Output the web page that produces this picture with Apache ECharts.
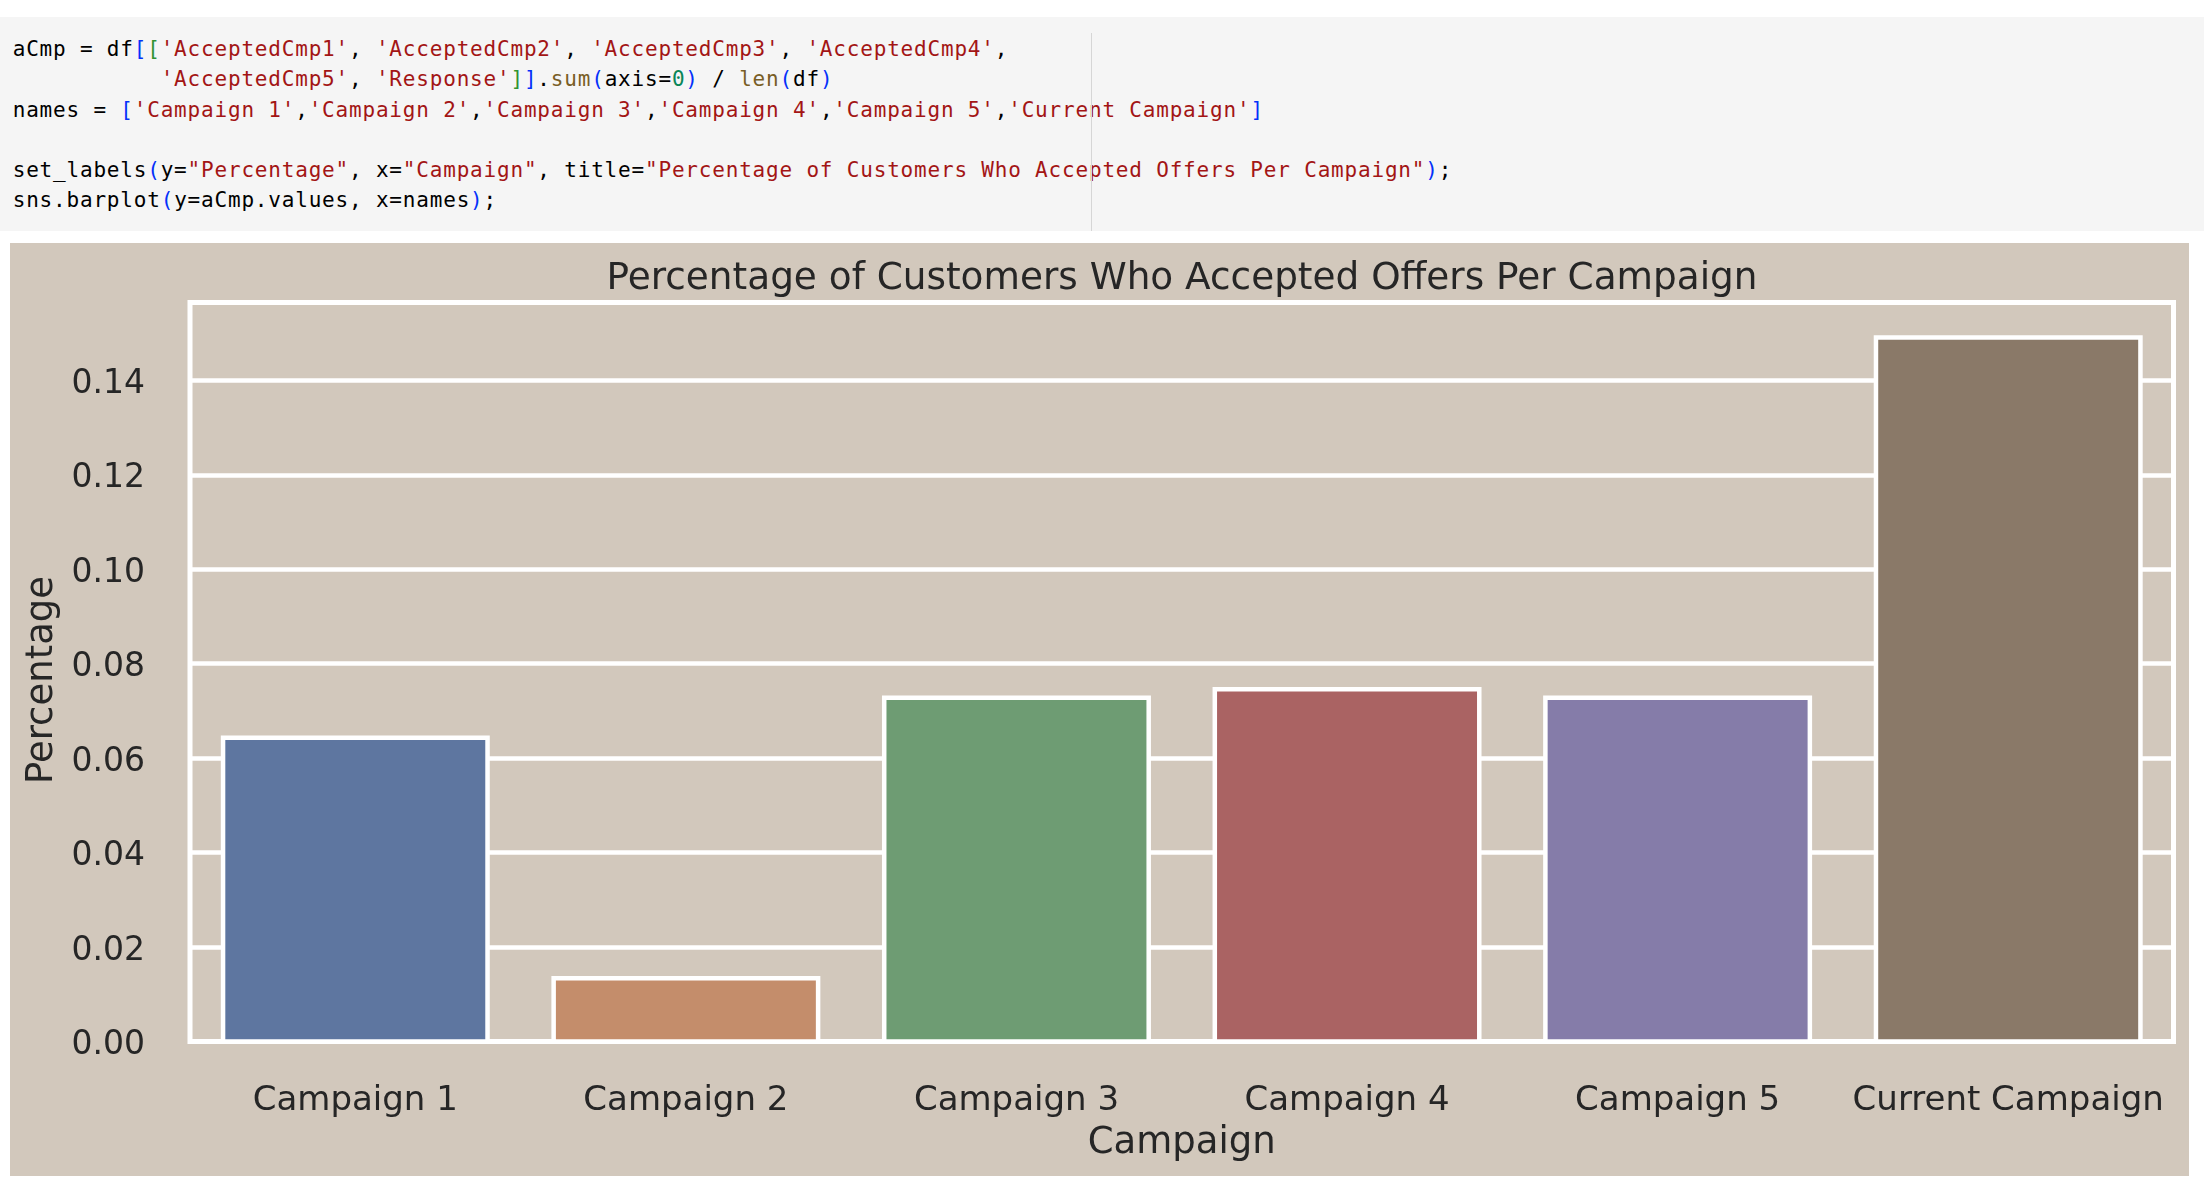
<!DOCTYPE html>
<html>
<head>
<meta charset="utf-8">
<script src="https://cdn.jsdelivr.net/npm/echarts@6/dist/echarts.min.js"></script>
<style>
  html, body { margin: 0; padding: 0; background: #ffffff; width: 2204px; height: 1190px; overflow: hidden; }
  #code { position: absolute; left: 0; top: 17px; width: 2204px; height: 214px; background: #f5f5f5; }
  #sep { position: absolute; left: 1091px; top: 16px; width: 1px; height: 198px; background: #d6d6d6; }
  pre { position: absolute; left: 12.7px; top: 17.2px; margin: 0; font-family: "DejaVu Sans Mono", monospace;
        font-size: 21px; line-height: 30.2px; letter-spacing: 0.81px; color: #000; }
  .s { color: #a31515; } .b1 { color: #0431fa; } .b2 { color: #319331; } .f { color: #795e26; } .n { color: #098658; }
  #chart { position: absolute; left: 10px; top: 243px; width: 2179px; height: 933px; }
</style>
</head>
<body>
<div id="code"><pre>aCmp = df<span class="b1">[</span><span class="b2">[</span><span class="s">'AcceptedCmp1'</span>, <span class="s">'AcceptedCmp2'</span>, <span class="s">'AcceptedCmp3'</span>, <span class="s">'AcceptedCmp4'</span>,
           <span class="s">'AcceptedCmp5'</span>, <span class="s">'Response'</span><span class="b2">]</span><span class="b1">]</span>.<span class="f">sum</span><span class="b1">(</span>axis=<span class="n">0</span><span class="b1">)</span> / <span class="f">len</span><span class="b1">(</span>df<span class="b1">)</span>
names = <span class="b1">[</span><span class="s">'Campaign 1'</span>,<span class="s">'Campaign 2'</span>,<span class="s">'Campaign 3'</span>,<span class="s">'Campaign 4'</span>,<span class="s">'Campaign 5'</span>,<span class="s">'Current Campaign'</span><span class="b1">]</span>

set_labels<span class="b1">(</span>y=<span class="s">"Percentage"</span>, x=<span class="s">"Campaign"</span>, title=<span class="s">"Percentage of Customers Who Accepted Offers Per Campaign"</span><span class="b1">)</span>;
sns.barplot<span class="b1">(</span>y=aCmp.values, x=names<span class="b1">)</span>;</pre><div id="sep"></div></div>
<div id="chart"></div>
<script>
const categories = ['Campaign 1', 'Campaign 2', 'Campaign 3', 'Campaign 4', 'Campaign 5', 'Current Campaign'];
const values = [0.0643, 0.0134, 0.0728, 0.0746, 0.0728, 0.1491];
const barColors = ['#5e76a0', '#c48d6b', '#6e9c73', '#aa6363', '#857ca9', '#8a7968'];
const yTicks = { min: 0, max: 0.1565, interval: 0.02 };
const titleText = 'Percentage of Customers Who Accepted Offers Per Campaign';
const xName = 'Campaign';
const yName = 'Percentage';

const chart = echarts.init(document.getElementById('chart'), null, { renderer: 'canvas' });
const font = 'DejaVu Sans';
const ink = '#262626';
chart.setOption({
  backgroundColor: '#d2c8bc',
  animation: false,
  title: {
    text: titleText,
    left: 1167, top: 13, textAlign: 'center',
    textStyle: { fontFamily: font, fontSize: 37.4, fontWeight: 'normal', color: ink }
  },
  grid: {
    left: 180, top: 59.5, right: 15.5, bottom: 134.5,
    show: true, backgroundColor: 'transparent', borderColor: '#ffffff', borderWidth: 5
  },
  xAxis: {
    type: 'category', data: categories,
    name: xName, nameLocation: 'middle', nameGap: 83,
    nameTextStyle: { fontFamily: font, fontSize: 37, color: ink },
    axisLine: { show: false }, axisTick: { show: false },
    axisLabel: { fontFamily: font, fontSize: 34, color: ink, margin: 43, interval: 0 },
    splitLine: { show: false }
  },
  yAxis: {
    type: 'value', min: yTicks.min, max: yTicks.max, interval: yTicks.interval,
    name: yName, nameLocation: 'middle', nameGap: 114,
    nameTextStyle: { fontFamily: font, fontSize: 37, color: ink, padding: [0, 16, 0, 0] },
    axisLine: { show: false }, axisTick: { show: false },
    axisLabel: { fontFamily: font, fontSize: 33, color: ink, margin: 45, showMaxLabel: false,
      formatter: v => '{t|' + v.toFixed(2) + '}',
      rich: { t: { fontFamily: font, fontSize: 33, color: ink, padding: [8, 0, 0, 0] } } },
    splitLine: { show: true, lineStyle: { color: '#ffffff', width: 4.5 } }
  },
  series: [{
    type: 'custom',
    clip: false,
    encode: { x: 0, y: 1 },
    data: values.map((v, i) => [i, v]),
    renderItem: function (params, api) {
      const top = api.coord([api.value(0), api.value(1)]);
      const base = api.coord([api.value(0), 0]);
      const bw = api.size([1, 0])[0] * 0.8;
      return {
        type: 'rect',
        shape: { x: top[0] - bw / 2, y: top[1], width: bw, height: base[1] - top[1] },
        style: { fill: barColors[params.dataIndex], stroke: '#ffffff', lineWidth: 4.5 }
      };
    }
  }]
});
</script>
</body>
</html>
